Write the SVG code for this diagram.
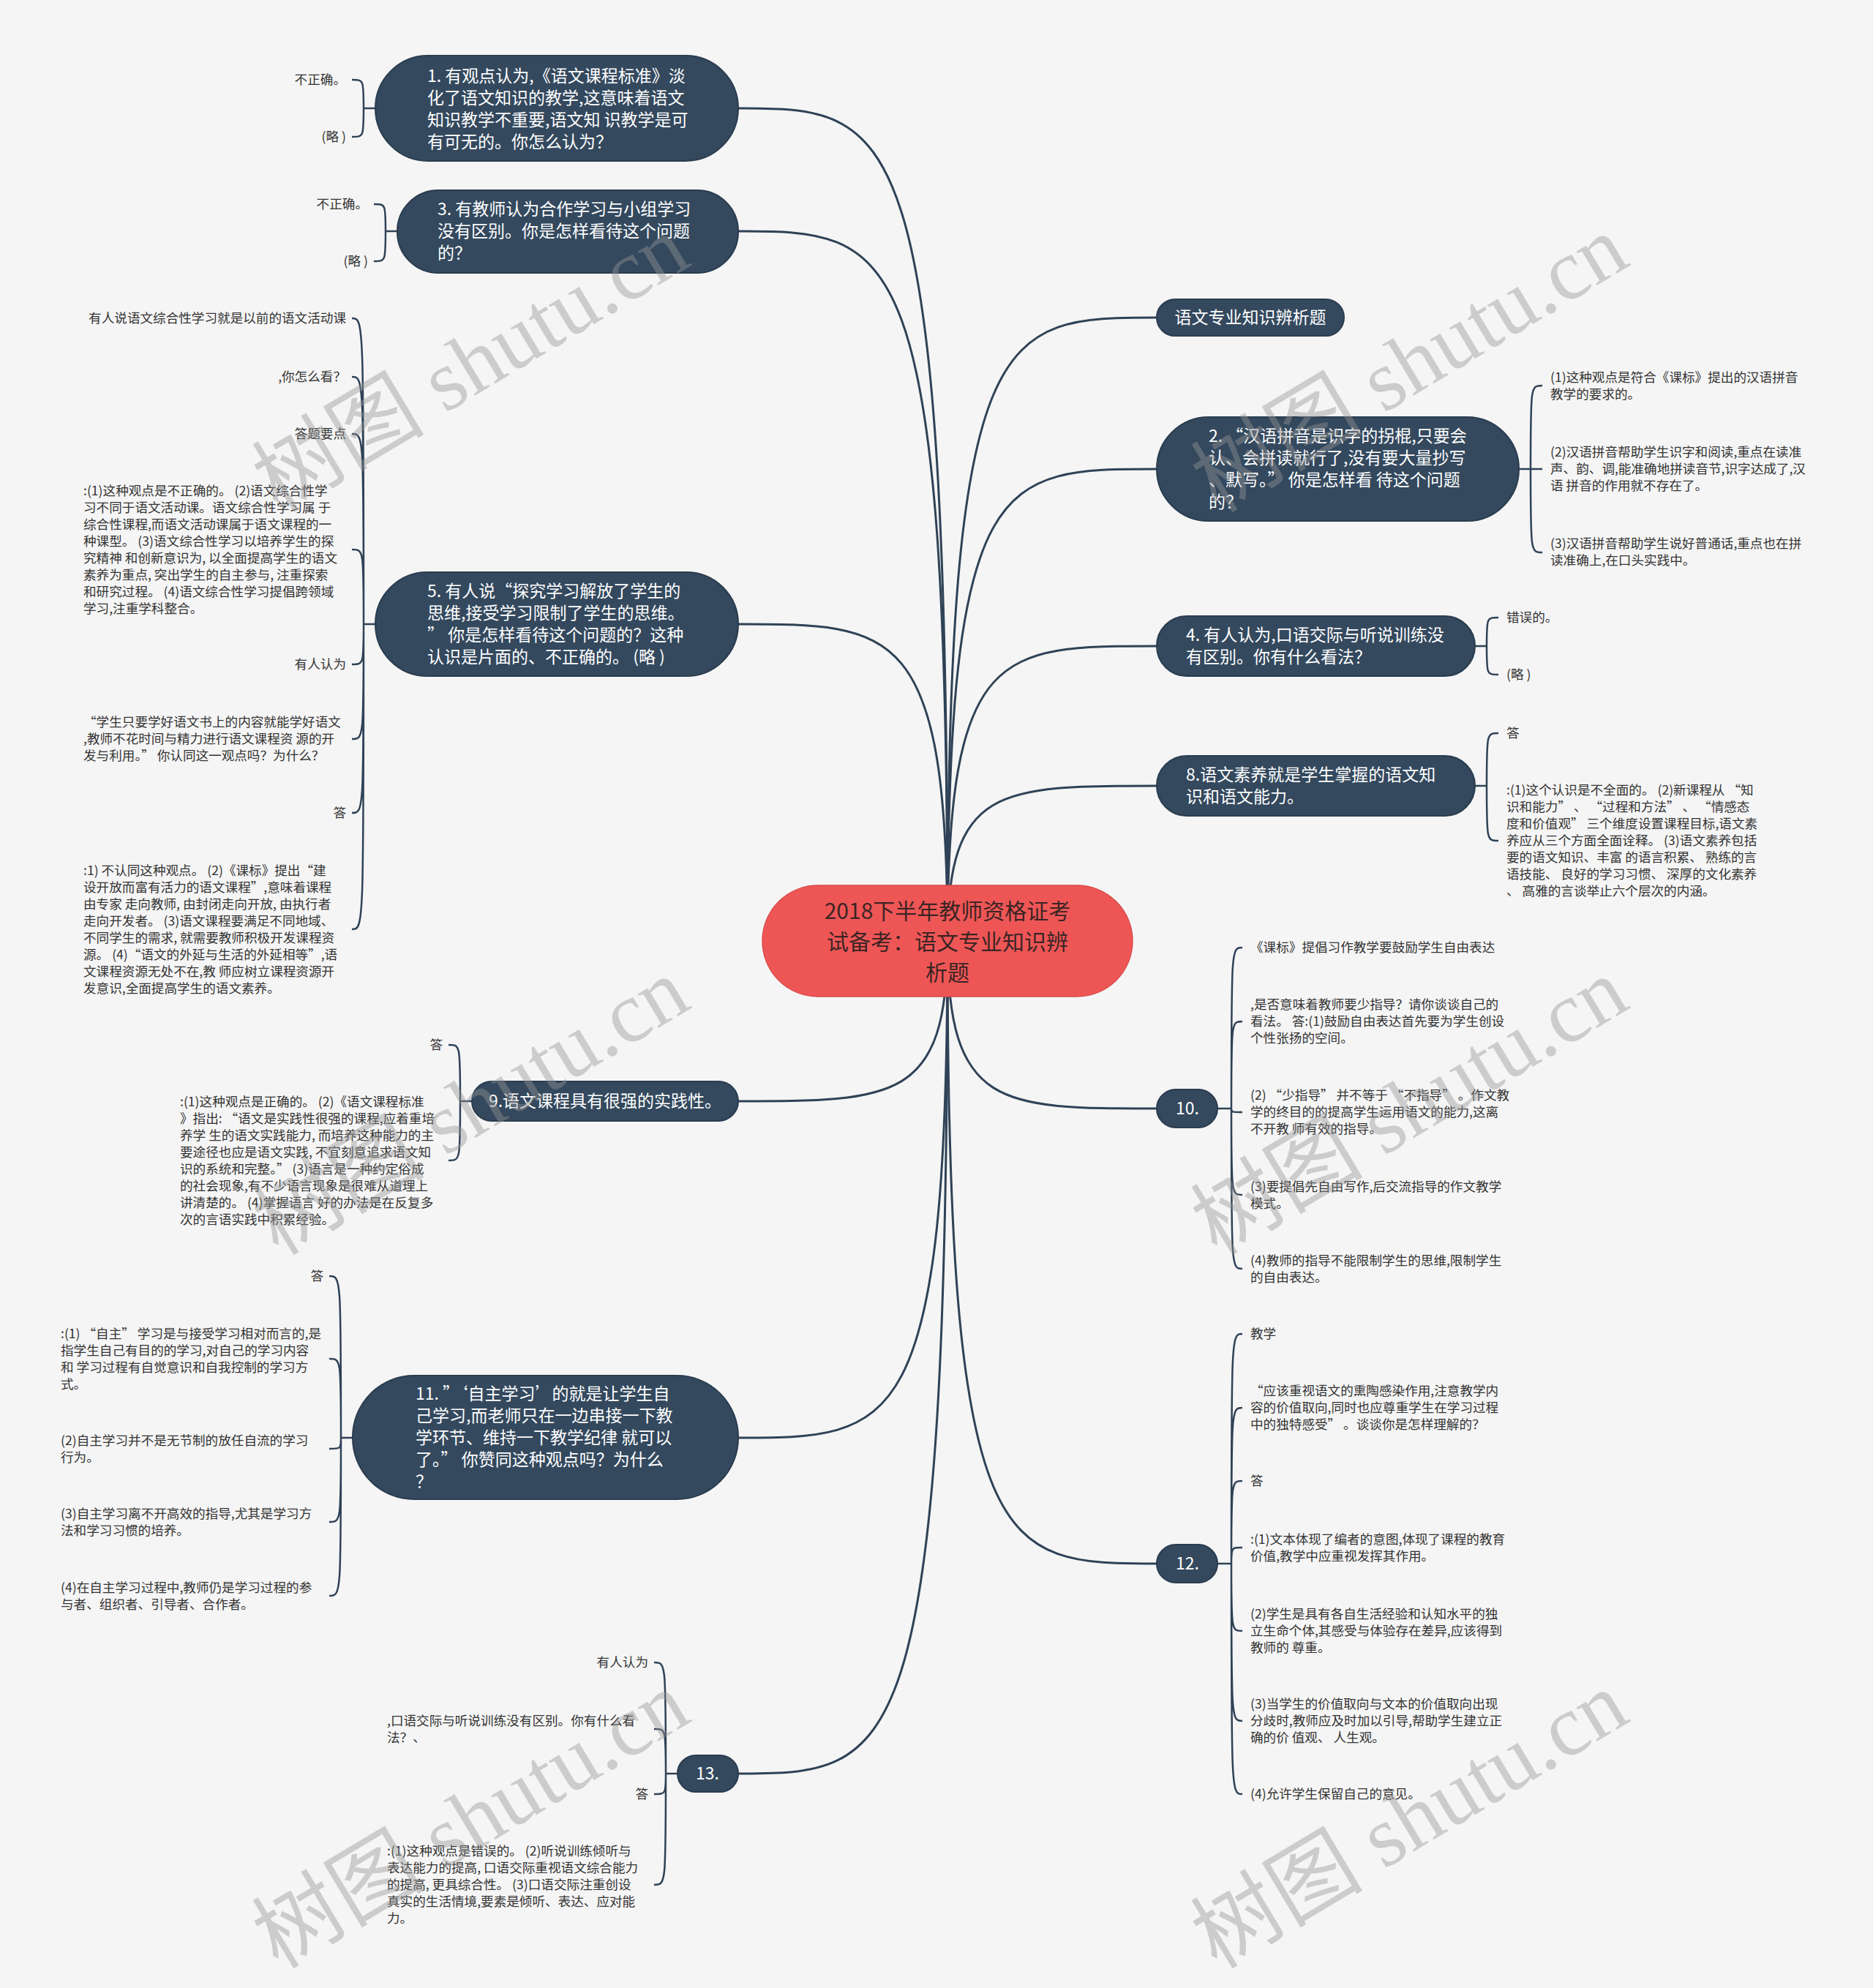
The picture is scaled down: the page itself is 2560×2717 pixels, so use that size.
<svg xmlns="http://www.w3.org/2000/svg" width="2560" height="2717" viewBox="0 0 2560 2717">
<style>
.pill{fill:#34495e;stroke:#2a3c4f;stroke-width:2}
.pt{font-family:"Noto Sans CJK SC","Noto Sans",sans-serif;font-size:23px;fill:#ffffff}
.ct{font-family:"Noto Sans CJK SC","Noto Sans",sans-serif;font-size:30px;fill:#3c2424;text-anchor:middle}
.lt{font-family:"Noto Sans CJK SC","Noto Sans",sans-serif;font-size:17.6px;fill:#333333}
.r{text-anchor:end}
.m{text-anchor:middle}
.conn{fill:none;stroke:#2f4257;stroke-width:3}
.br{fill:none;stroke:#2f4257;stroke-width:2.5}
.wm{font-family:"Liberation Serif","Noto Sans CJK SC",serif;font-size:118px;fill:#969696;opacity:0.42;text-anchor:middle}
</style>
<rect width="2560" height="2717" fill="#f5f5f5"/>
<g id="connectors">
<path class="conn" d="M1295 1286C1295 148 1223 148 1009 148"/>
<path class="conn" d="M1295 1286C1295 316 1223 316 1009 316"/>
<path class="conn" d="M1295 1286C1295 853 1223 853 1009 853"/>
<path class="conn" d="M1295 1286C1295 434 1366 434 1581 434"/>
<path class="conn" d="M1295 1286C1295 641 1366 641 1581 641"/>
<path class="conn" d="M1295 1286C1295 883 1366 883 1581 883"/>
<path class="conn" d="M1295 1286C1295 1074 1366 1074 1581 1074"/>
<path class="conn" d="M1295 1286C1295 1505 1223 1505 1009 1505"/>
<path class="conn" d="M1295 1286C1295 1965 1223 1965 1009 1965"/>
<path class="conn" d="M1295 1286C1295 2424 1223 2424 1009 2424"/>
<path class="conn" d="M1295 1286C1295 1515 1366 1515 1581 1515"/>
<path class="conn" d="M1295 1286C1295 2137 1366 2137 1581 2137"/>
<path class="br" d="M513 148H497M497 148C497 109 497 109 481 109M497 148C497 187 497 187 481 187"/>
<path class="br" d="M543 316H527M527 316C527 279 527 279 511 279M527 316C527 357 527 357 511 357"/>
<path class="br" d="M513 853H497M497 853C497 435 497 435 481 435M497 853C497 515 497 515 481 515M497 853C497 593 497 593 481 593M497 853C497 751 497 751 481 751M497 853C497 908 497 908 481 908M497 853C497 1010 497 1010 481 1010M497 853C497 1111 497 1111 481 1111M497 853C497 1270 497 1270 481 1270"/>
<path class="br" d="M645 1505H629M629 1505C629 1428 629 1428 613 1428M629 1505C629 1586 629 1586 613 1586"/>
<path class="br" d="M482 1965H466M466 1965C466 1744 466 1744 450 1744M466 1965C466 1857 466 1857 450 1857M466 1965C466 1980 466 1980 450 1980M466 1965C466 2080 466 2080 450 2080M466 1965C466 2181 466 2181 450 2181"/>
<path class="br" d="M926 2424H910M910 2424C910 2272 910 2272 894 2272M910 2424C910 2363 910 2363 894 2363M910 2424C910 2452 910 2452 894 2452M910 2424C910 2576 910 2576 894 2576"/>
<path class="br" d="M2076 641H2092M2092 641C2092 527 2092 527 2108 527M2092 641H2108M2092 641C2092 755 2092 755 2108 755"/>
<path class="br" d="M2016 883H2032M2032 883C2032 844 2032 844 2048 844M2032 883C2032 922 2032 922 2048 922"/>
<path class="br" d="M2016 1074H2032M2032 1074C2032 1002 2032 1002 2048 1002M2032 1074C2032 1149 2032 1149 2048 1149"/>
<path class="br" d="M1664 1515H1683M1683 1515C1683 1295 1683 1295 1698 1295M1683 1515C1683 1396 1683 1396 1698 1396M1683 1515C1683 1520 1683 1520 1698 1520M1683 1515C1683 1633 1683 1633 1698 1633M1683 1515C1683 1734 1683 1734 1698 1734"/>
<path class="br" d="M1664 2137H1683M1683 2137C1683 1823 1683 1823 1698 1823M1683 2137C1683 1924 1683 1924 1698 1924M1683 2137C1683 2024 1683 2024 1698 2024M1683 2137C1683 2115 1683 2115 1698 2115M1683 2137C1683 2229 1683 2229 1698 2229M1683 2137C1683 2352 1683 2352 1698 2352M1683 2137C1683 2452 1683 2452 1698 2452"/>
</g>
<g id="center">
<rect x="1042" y="1210" width="506" height="152" rx="76" fill="#ee5656" stroke="#d94a4a" stroke-width="1.5"/>
<text class="ct"><tspan x="1295" y="1256">2018下半年教师资格证考</tspan><tspan x="1295" y="1298">试备考：语文专业知识辨</tspan><tspan x="1295" y="1340">析题</tspan></text>
</g>
<g id="n1">
<rect class="pill" x="513" y="76" width="496" height="144" rx="72"/>
<text class="pt"><tspan x="584" y="112">1. 有观点认为,《语文课程标准》淡</tspan><tspan x="584" y="142">化了语文知识的教学,这意味着语文</tspan><tspan x="584" y="172">知识教学不重要,语文知 识教学是可</tspan><tspan x="584" y="202">有可无的。你怎么认为？</tspan></text>
<text class="lt r" x="473" y="115">不正确。</text>
<text class="lt r" x="473" y="193">(略 )</text>
</g>
<g id="n3">
<rect class="pill" x="543" y="260" width="466" height="113" rx="56"/>
<text class="pt"><tspan x="598" y="294">3. 有教师认为合作学习与小组学习</tspan><tspan x="598" y="324">没有区别。你是怎样看待这个问题</tspan><tspan x="598" y="354">的？</tspan></text>
<text class="lt r" x="503" y="285">不正确。</text>
<text class="lt r" x="503" y="363">(略 )</text>
</g>
<g id="n5">
<rect class="pill" x="513" y="782" width="496" height="142" rx="71"/>
<text class="pt"><tspan x="584" y="816">5. 有人说“探究学习解放了学生的</tspan><tspan x="584" y="846">思维,接受学习限制了学生的思维。</tspan><tspan x="584" y="876">” 你是怎样看待这个问题的？这种</tspan><tspan x="584" y="906">认识是片面的、不正确的。 (略 )</tspan></text>
<text class="lt r" x="473" y="441">有人说语文综合性学习就是以前的语文活动课</text>
<text class="lt r" x="473" y="521">,你怎么看？</text>
<text class="lt r" x="473" y="599">答题要点</text>
<text class="lt"><tspan x="114" y="677">:(1)这种观点是不正确的。 (2)语文综合性学</tspan><tspan x="114" y="700">习不同于语文活动课。语文综合性学习属 于</tspan><tspan x="114" y="723">综合性课程,而语文活动课属于语文课程的一</tspan><tspan x="114" y="746">种课型。 (3)语文综合性学习以培养学生的探</tspan><tspan x="114" y="769">究精神 和创新意识为, 以全面提高学生的语文</tspan><tspan x="114" y="792">素养为重点, 突出学生的自主参与, 注重探索</tspan><tspan x="114" y="815">和研究过程。 (4)语文综合性学习提倡跨领域</tspan><tspan x="114" y="838">学习,注重学科整合。</tspan></text>
<text class="lt r" x="473" y="914">有人认为</text>
<text class="lt"><tspan x="114" y="993">“学生只要学好语文书上的内容就能学好语文</tspan><tspan x="114" y="1016">,教师不花时间与精力进行语文课程资 源的开</tspan><tspan x="114" y="1039">发与利用。” 你认同这一观点吗？为什么？</tspan></text>
<text class="lt r" x="473" y="1117">答</text>
<text class="lt"><tspan x="114" y="1196">:1) 不认同这种观点。 (2)《课标》提出“建</tspan><tspan x="114" y="1219">设开放而富有活力的语文课程”,意味着课程</tspan><tspan x="114" y="1242">由专家 走向教师, 由封闭走向开放, 由执行者</tspan><tspan x="114" y="1265">走向开发者。 (3)语文课程要满足不同地域、</tspan><tspan x="114" y="1288">不同学生的需求, 就需要教师积极开发课程资</tspan><tspan x="114" y="1311">源。 (4)“语文的外延与生活的外延相等”,语</tspan><tspan x="114" y="1334">文课程资源无处不在,教 师应树立课程资源开</tspan><tspan x="114" y="1357">发意识,全面提高学生的语文素养。</tspan></text>
</g>
<g id="n9">
<rect class="pill" x="645" y="1478" width="364" height="54" rx="27"/>
<text class="pt m" x="827" y="1513">9.语文课程具有很强的实践性。</text>
<text class="lt r" x="605" y="1434">答</text>
<text class="lt"><tspan x="246" y="1512">:(1)这种观点是正确的。 (2)《语文课程标准</tspan><tspan x="246" y="1535">》指出: “语文是实践性很强的课程,应着重培</tspan><tspan x="246" y="1558">养学 生的语文实践能力, 而培养这种能力的主</tspan><tspan x="246" y="1581">要途径也应是语文实践, 不宜刻意追求语文知</tspan><tspan x="246" y="1604">识的系统和完整。” (3)语言是一种约定俗成</tspan><tspan x="246" y="1627">的社会现象,有不少语言现象是很难从道理上</tspan><tspan x="246" y="1650">讲清楚的。 (4)掌握语言 好的办法是在反复多</tspan><tspan x="246" y="1673">次的言语实践中积累经验。</tspan></text>
</g>
<g id="n11">
<rect class="pill" x="482" y="1880" width="527" height="169" rx="84"/>
<text class="pt"><tspan x="568" y="1913">11. ”‘自主学习’的就是让学生自</tspan><tspan x="568" y="1943">己学习,而老师只在一边串接一下教</tspan><tspan x="568" y="1973">学环节、维持一下教学纪律 就可以</tspan><tspan x="568" y="2003">了。” 你赞同这种观点吗？为什么</tspan><tspan x="568" y="2033">？</tspan></text>
<text class="lt r" x="442" y="1750">答</text>
<text class="lt"><tspan x="83" y="1829">:(1) “自主” 学习是与接受学习相对而言的,是</tspan><tspan x="83" y="1852">指学生自己有目的的学习,对自己的学习内容</tspan><tspan x="83" y="1875">和 学习过程有自觉意识和自我控制的学习方</tspan><tspan x="83" y="1898">式。</tspan></text>
<text class="lt"><tspan x="83" y="1975">(2)自主学习并不是无节制的放任自流的学习</tspan><tspan x="83" y="1998">行为。</tspan></text>
<text class="lt"><tspan x="83" y="2075">(3)自主学习离不开高效的指导,尤其是学习方</tspan><tspan x="83" y="2098">法和学习习惯的培养。</tspan></text>
<text class="lt"><tspan x="83" y="2176">(4)在自主学习过程中,教师仍是学习过程的参</tspan><tspan x="83" y="2199">与者、组织者、引导者、合作者。</tspan></text>
</g>
<g id="n13">
<rect class="pill" x="926" y="2399" width="83" height="50" rx="25"/>
<text class="pt m" x="967" y="2432">13.</text>
<text class="lt r" x="886" y="2278">有人认为</text>
<text class="lt"><tspan x="529" y="2358">,口语交际与听说训练没有区别。你有什么看</tspan><tspan x="529" y="2381">法？、</tspan></text>
<text class="lt r" x="886" y="2458">答</text>
<text class="lt"><tspan x="529" y="2536">:(1)这种观点是错误的。 (2)听说训练倾听与</tspan><tspan x="529" y="2559">表达能力的提高, 口语交际重视语文综合能力</tspan><tspan x="529" y="2582">的提高, 更具综合性。 (3)口语交际注重创设</tspan><tspan x="529" y="2605">真实的生活情境,要素是倾听、表达、应对能</tspan><tspan x="529" y="2628">力。</tspan></text>
</g>
<g id="nT">
<rect class="pill" x="1581" y="409" width="256" height="50" rx="25"/>
<text class="pt m" x="1709" y="442">语文专业知识辨析题</text>
</g>
<g id="n2">
<rect class="pill" x="1581" y="570" width="495" height="142" rx="71"/>
<text class="pt"><tspan x="1652" y="604">2. “汉语拼音是识字的拐棍,只要会</tspan><tspan x="1652" y="634">认、会拼读就行了,没有要大量抄写</tspan><tspan x="1652" y="664">、默写。” 你是怎样看 待这个问题</tspan><tspan x="1652" y="694">的？</tspan></text>
<text class="lt"><tspan x="2119" y="522">(1)这种观点是符合《课标》提出的汉语拼音</tspan><tspan x="2119" y="545">教学的要求的。</tspan></text>
<text class="lt"><tspan x="2119" y="624">(2)汉语拼音帮助学生识字和阅读,重点在读准</tspan><tspan x="2119" y="647">声、韵、调,能准确地拼读音节,识字达成了,汉</tspan><tspan x="2119" y="670">语 拼音的作用就不存在了。</tspan></text>
<text class="lt"><tspan x="2119" y="749">(3)汉语拼音帮助学生说好普通话,重点也在拼</tspan><tspan x="2119" y="772">读准确上,在口头实践中。</tspan></text>
</g>
<g id="n4">
<rect class="pill" x="1581" y="842" width="435" height="82" rx="41"/>
<text class="pt"><tspan x="1621" y="876">4. 有人认为,口语交际与听说训练没</tspan><tspan x="1621" y="906">有区别。你有什么看法？</tspan></text>
<text class="lt" x="2059" y="850">错误的。</text>
<text class="lt" x="2059" y="928">(略 )</text>
</g>
<g id="n8">
<rect class="pill" x="1581" y="1033" width="435" height="82" rx="41"/>
<text class="pt"><tspan x="1621" y="1067">8.语文素养就是学生掌握的语文知</tspan><tspan x="1621" y="1097">识和语文能力。</tspan></text>
<text class="lt" x="2059" y="1008">答</text>
<text class="lt"><tspan x="2059" y="1086">:(1)这个认识是不全面的。 (2)新课程从 “知</tspan><tspan x="2059" y="1109">识和能力” 、 “过程和方法” 、 “情感态</tspan><tspan x="2059" y="1132">度和价值观” 三个维度设置课程目标,语文素</tspan><tspan x="2059" y="1155">养应从三个方面全面诠释。 (3)语文素养包括</tspan><tspan x="2059" y="1178">要的语文知识、丰富 的语言积累、 熟练的言</tspan><tspan x="2059" y="1201">语技能、 良好的学习习惯、 深厚的文化素养</tspan><tspan x="2059" y="1224">、 高雅的言谈举止六个层次的内涵。</tspan></text>
</g>
<g id="n10">
<rect class="pill" x="1581" y="1489" width="83" height="52" rx="26"/>
<text class="pt m" x="1623" y="1523">10.</text>
<text class="lt" x="1709" y="1301">《课标》提倡习作教学要鼓励学生自由表达</text>
<text class="lt"><tspan x="1709" y="1379">,是否意味着教师要少指导？请你谈谈自己的</tspan><tspan x="1709" y="1402">看法。 答:(1)鼓励自由表达首先要为学生创设</tspan><tspan x="1709" y="1425">个性张扬的空间。</tspan></text>
<text class="lt"><tspan x="1709" y="1503">(2) “少指导” 并不等于 “不指导” 。作文教</tspan><tspan x="1709" y="1526">学的终目的的提高学生运用语文的能力,这离</tspan><tspan x="1709" y="1549">不开教 师有效的指导。</tspan></text>
<text class="lt"><tspan x="1709" y="1628">(3)要提倡先自由写作,后交流指导的作文教学</tspan><tspan x="1709" y="1651">模式。</tspan></text>
<text class="lt"><tspan x="1709" y="1729">(4)教师的指导不能限制学生的思维,限制学生</tspan><tspan x="1709" y="1752">的自由表达。</tspan></text>
</g>
<g id="n12">
<rect class="pill" x="1581" y="2111" width="83" height="52" rx="26"/>
<text class="pt m" x="1623" y="2145">12.</text>
<text class="lt" x="1709" y="1829">教学</text>
<text class="lt"><tspan x="1709" y="1907">“应该重视语文的熏陶感染作用,注意教学内</tspan><tspan x="1709" y="1930">容的价值取向,同时也应尊重学生在学习过程</tspan><tspan x="1709" y="1953">中的独特感受” 。谈谈你是怎样理解的？</tspan></text>
<text class="lt" x="1709" y="2030">答</text>
<text class="lt"><tspan x="1709" y="2110">:(1)文本体现了编者的意图,体现了课程的教育</tspan><tspan x="1709" y="2133">价值,教学中应重视发挥其作用。</tspan></text>
<text class="lt"><tspan x="1709" y="2212">(2)学生是具有各自生活经验和认知水平的独</tspan><tspan x="1709" y="2235">立生命个体,其感受与体验存在差异,应该得到</tspan><tspan x="1709" y="2258">教师的 尊重。</tspan></text>
<text class="lt"><tspan x="1709" y="2335">(3)当学生的价值取向与文本的价值取向出现</tspan><tspan x="1709" y="2358">分歧时,教师应及时加以引导,帮助学生建立正</tspan><tspan x="1709" y="2381">确的价 值观、 人生观。</tspan></text>
<text class="lt" x="1709" y="2458">(4)允许学生保留自己的意见。</text>
</g>
<g id="watermarks">
<text class="wm" x="645" y="537" transform="rotate(-31 645 500)">树图 shutu.cn</text>
<text class="wm" x="1928" y="537" transform="rotate(-31 1928 500)">树图 shutu.cn</text>
<text class="wm" x="645" y="1552" transform="rotate(-31 645 1515)">树图 shutu.cn</text>
<text class="wm" x="1928" y="1552" transform="rotate(-31 1928 1515)">树图 shutu.cn</text>
<text class="wm" x="645" y="2527" transform="rotate(-31 645 2490)">树图 shutu.cn</text>
<text class="wm" x="1928" y="2527" transform="rotate(-31 1928 2490)">树图 shutu.cn</text>
</g>
</svg>
